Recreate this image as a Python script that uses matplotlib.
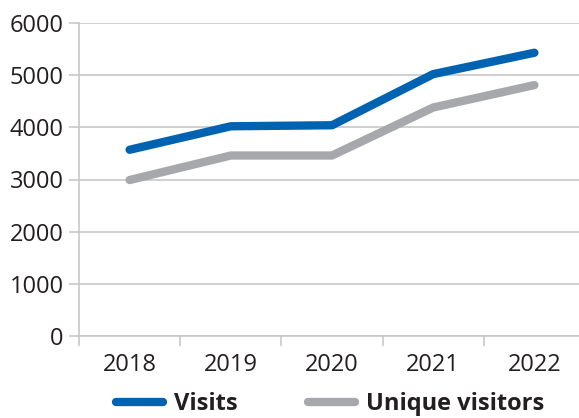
import numpy as np
import matplotlib
matplotlib.use('Agg')
import matplotlib.pyplot as plt

years = ['2018', '2019', '2020', '2021', '2022']
visits = [3570, 4020, 4040, 5020, 5430]
unique_visitors = [2990, 3460, 3460, 4380, 4810]

plt.rcParams['font.family'] = ['Open Sans', 'DejaVu Sans']

fig = plt.figure(figsize=(5.79, 4.18), dpi=100)
W, H = 579, 418
ax = fig.add_axes([79 / W, 1 - 336 / H, (585 - 79) / W, (336 - 23) / H])

x = np.arange(len(years))
ax.plot(x, visits, color='#0063b1', lw=6, solid_capstyle='round', label='Visits')
ax.plot(x, unique_visitors, color='#a7a8ab', lw=6, solid_capstyle='round', label='Unique visitors')

ax.set_ylim(0, 6000)
ax.set_xlim(-0.5, len(years) - 0.5)
ax.set_yticks(range(0, 6001, 1000))
ax.set_xticks(x)
ax.set_xticklabels(years)
ax.set_xticks(np.arange(-0.5, len(years), 1), minor=True)
ax.grid(axis='y', color='#c8c8ca', lw=1.2)
ax.set_axisbelow(True)

for s in ['top', 'right']:
    ax.spines[s].set_visible(False)
for s in ['left', 'bottom']:
    ax.spines[s].set_color('#c8c8ca')
    ax.spines[s].set_linewidth(1.2)

ax.tick_params(axis='y', length=7, color='#c8c8ca', width=1.2, labelsize=17, pad=4, labelcolor='#231f20')
ax.tick_params(axis='x', which='major', length=0, labelsize=17, pad=12, labelcolor='#231f20')
ax.tick_params(axis='x', which='minor', length=7, color='#c8c8ca', width=1.2)

leg = fig.legend(loc='center', bbox_to_anchor=(0.57, 0.033), ncol=2, frameon=False,
                 prop={'weight': 'bold', 'size': 17}, handlelength=2.0, columnspacing=3.0,
                 handletextpad=0.45)
for t in leg.get_texts():
    t.set_color('#231f20')

fig.savefig('out.png', dpi=100)
